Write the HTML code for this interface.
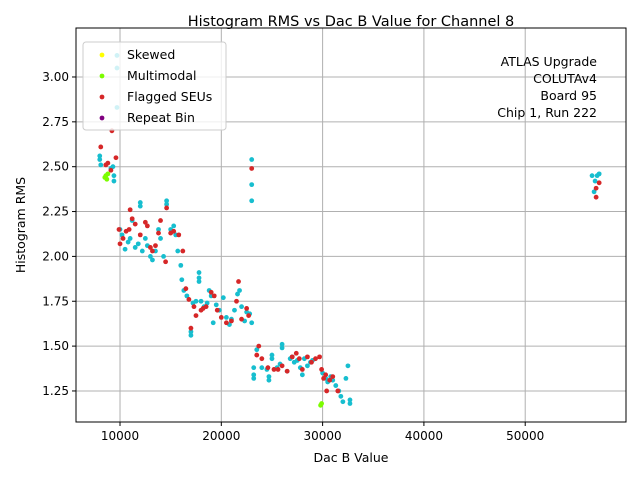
<!DOCTYPE html>
<html><head><meta charset="utf-8"><style>
body{margin:0;background:#fff;font-family:"Liberation Sans","DejaVu Sans",sans-serif}
svg text{font-family:"DejaVu Sans","Liberation Sans",sans-serif}
</style></head><body>
<svg id="c" width="640" height="480" xmlns="http://www.w3.org/2000/svg"></svg>
<script>
const xTicks=[10000,20000,30000,40000,50000];
const yTicks=[1.25,1.5,1.75,2.0,2.25,2.5,2.75,3.0];
const cyanX=[8000,8000,8100,9300,9400,9400,9100,9700,9700,9700,10000,10200,10500,10800,11000,11200,11500,11800,12000,12000,12200,12500,12700,13000,13200,13500,13800,14000,14300,14600,14600,15000,15300,15500,15700,16000,16100,16300,16600,17000,17000,17200,17500,17800,17800,17800,18000,18300,18600,18800,19000,19200,19500,19800,20200,20500,20800,21000,21300,21600,21800,22000,22300,22500,22800,23000,23000,23000,23000,23200,23200,23200,23500,24000,24500,24700,24700,25000,25000,25500,25800,26000,26000,26500,26800,27000,27200,27500,27800,28000,28200,28500,28800,29000,30000,30300,30500,30800,31000,31300,31600,31800,32000,32300,32500,32700,32700,56600,56800,57100,57300,56900];
const cyanY=[2.56,2.54,2.51,2.50,2.45,2.42,2.49,3.12,3.05,2.83,2.15,2.12,2.04,2.08,2.10,2.20,2.05,2.07,2.30,2.28,2.03,2.10,2.06,2.00,1.98,2.03,2.15,2.10,2.00,2.31,2.29,2.15,2.17,2.12,2.03,1.95,1.87,1.81,1.78,1.56,1.58,1.74,1.75,1.91,1.88,1.86,1.75,1.72,1.74,1.81,1.78,1.63,1.73,1.70,1.77,1.66,1.62,1.65,1.70,1.79,1.81,1.72,1.64,1.69,1.68,1.63,2.54,2.40,2.31,1.38,1.34,1.32,1.48,1.38,1.37,1.31,1.33,1.43,1.45,1.38,1.40,1.51,1.49,1.36,1.43,1.44,1.41,1.42,1.38,1.34,1.43,1.39,1.41,1.42,1.35,1.32,1.30,1.33,1.31,1.28,1.25,1.22,1.19,1.32,1.39,1.20,1.18,2.45,2.36,2.45,2.46,2.42];
const redX=[8100,9200,8600,9600,9100,8800,9900,10000,10300,10600,10900,11200,11000,11500,12000,12500,12700,13000,13200,13500,13800,14000,14500,14600,15000,15300,15800,16200,16500,16800,17000,17300,17500,18000,18200,18500,19000,19300,19600,20000,20500,21000,21500,21700,22000,22500,22700,23000,23500,23700,24000,24600,25200,25600,26000,26500,27000,27400,27700,28000,28500,28900,29300,29700,29900,30100,30300,30700,30400,31000,31500,57000,57000,57300];
const redY=[2.61,2.70,2.51,2.55,2.48,2.52,2.15,2.07,2.10,2.14,2.15,2.21,2.26,2.18,2.12,2.19,2.17,2.05,2.03,2.06,2.13,2.20,1.97,2.27,2.13,2.14,2.12,2.03,1.82,1.76,1.60,1.72,1.67,1.70,1.71,1.72,1.80,1.78,1.70,1.66,1.63,1.64,1.75,1.86,1.65,1.71,1.67,2.49,1.45,1.50,1.43,1.38,1.37,1.37,1.39,1.36,1.44,1.46,1.43,1.37,1.44,1.41,1.43,1.44,1.37,1.32,1.34,1.31,1.25,1.33,1.25,2.33,2.38,2.41];
const greenX=[8500,8600,8700,8800,29800,29900];
const greenY=[2.44,2.45,2.43,2.46,1.17,1.18];
const L=76,R=626,T=28,B=422,X0=5655,X1=59950,Y0=1.077,Y1=3.273;
const sx=v=>L+(v-X0)/(X1-X0)*(R-L);
const sy=v=>B-(v-Y0)/(Y1-Y0)*(B-T);
const svg=document.getElementById('c');const NS='http://www.w3.org/2000/svg';
function mk(t,a,txt){const e=document.createElementNS(NS,t);for(const k in a)e.setAttribute(k,a[k]);if(txt!==undefined)e.textContent=txt;svg.appendChild(e);return e;}
xTicks.forEach(t=>{const x=sx(t);
const g=mk('line',{x1:x,x2:x,y1:T,y2:B,stroke:'#b0b0b0','stroke-width':1});


mk('line',{x1:x,x2:x,y1:B,y2:B+4,stroke:'#000'});
const l=mk('text',{x:x,y:B+18,'text-anchor':'middle','font-size':12},String(t));

});
yTicks.forEach(t=>{const y=sy(t);
const g=mk('line',{x1:L,x2:R,y1:y,y2:y,stroke:'#b0b0b0','stroke-width':1});


mk('line',{x1:L-4,x2:L,y1:y,y2:y,stroke:'#000'});
const l=mk('text',{x:L-7,y:y+4,'text-anchor':'end','font-size':12},t.toFixed(2));

});
function pts(xs,ys,col,name){xs.forEach((v,i)=>{const c=mk('circle',{cx:sx(v),cy:sy(ys[i]),r:2.4,fill:col});

});}
pts(cyanX,cyanY,'#17becf','point-normal');
pts(redX,redY,'#d62728','point-flagged-seu');
pts(greenX,greenY,'#7cfc00','point-multimodal');
const f=mk('rect',{x:L,y:T,width:R-L,height:B-T,fill:'none',stroke:'#000','stroke-width':1});


</script>
<svg width="640" height="480" style="position:absolute;left:0;top:0">
<text x="351" y="26" text-anchor="middle" font-size="14.5">Histogram RMS vs Dac B Value for Channel 8</text>
<text x="351" y="462" text-anchor="middle" font-size="12.5">Dac B Value</text>
<text x="25" y="225" text-anchor="middle" font-size="12.5" transform="rotate(-90 25 225)">Histogram RMS</text>
<g>
<rect x="83" y="42" width="143" height="88" rx="3" fill="#fff" fill-opacity="0.8" stroke="#ccc"/>
<circle cx="102" cy="55" r="2.4" fill="#ffff00"/><text x="127" y="59" font-size="12.5">Skewed</text>
<circle cx="102" cy="76" r="2.4" fill="#7cfc00"/><text x="127" y="80" font-size="12.5">Multimodal</text>
<circle cx="102" cy="97" r="2.4" fill="#d62728"/><text x="127" y="101" font-size="12.5">Flagged SEUs</text>
<circle cx="102" cy="118" r="2.4" fill="#800080"/><text x="127" y="122" font-size="12.5">Repeat Bin</text>
</g>
<g font-size="12.5" text-anchor="end">
<text x="597" y="66">ATLAS Upgrade</text>
<text x="597" y="83">COLUTAv4</text>
<text x="597" y="100">Board 95</text>
<text x="597" y="117">Chip 1, Run 222</text>
</g>
</svg>
</body></html>
